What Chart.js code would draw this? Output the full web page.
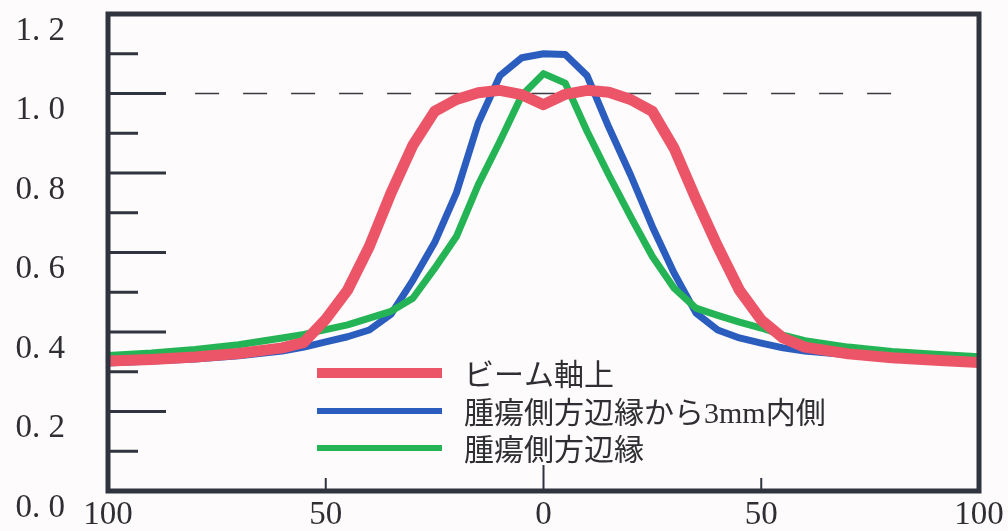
<!DOCTYPE html>
<html><head><meta charset="utf-8">
<script src="https://cdn.jsdelivr.net/npm/chart.js@4.4.1/dist/chart.umd.min.js"></script>
<style>html,body{margin:0;padding:0;background:#fdfbfb;overflow:hidden}#wrap{width:1008px;height:531px}</style>
</head><body><div id="wrap"><canvas id="c" width="1008" height="531"></canvas></div>
<script>
// ---- data ----
const positions   = [-100,-90,-80,-70,-60,-55,-50,-45,-40,-35,-30,-25,-20,-15,-10,-5,0,5,10,15,20,25,30,35,40,45,50,55,60,70,80,90,100];
const beamAxis    = [0.327,0.331,0.337,0.346,0.360,0.374,0.432,0.505,0.615,0.750,0.870,0.955,0.985,1.002,1.008,0.997,0.972,0.998,1.008,1.003,0.985,0.955,0.862,0.735,0.615,0.505,0.430,0.385,0.362,0.345,0.335,0.329,0.323];
const inner3mm    = [0.322,0.327,0.332,0.340,0.352,0.362,0.375,0.388,0.405,0.445,0.530,0.625,0.750,0.925,1.045,1.090,1.100,1.098,1.045,0.915,0.795,0.665,0.548,0.448,0.405,0.385,0.372,0.360,0.352,0.343,0.336,0.331,0.327];
const lateralEdge = [0.341,0.347,0.356,0.368,0.385,0.394,0.406,0.418,0.435,0.452,0.485,0.560,0.640,0.770,0.880,0.995,1.050,1.026,0.905,0.795,0.690,0.590,0.510,0.460,0.442,0.425,0.410,0.392,0.378,0.362,0.351,0.344,0.338];
const seriesLabels = ['ビーム軸上', '腫瘍側方辺縁から3mm内側', '腫瘍側方辺縁'];
const yMajorTicks = [0, 0.2, 0.4, 0.6, 0.8, 1.0, 1.2];
const yMinorTicks = [0.1, 0.3, 0.5, 0.7, 0.9, 1.1];
const xTickValues = [-100, -50, 0, 50, 100];
const refLevel = 1.0;
const refRange = [-80, 80];

const colors = { red: '#ec5568', blue: '#2b5dbf', green: '#25b455', frame: '#30343f', text: '#2e2e33' };
const numFont = '"Liberation Serif", "DejaVu Serif", serif';

const toPts = arr => positions.map((x, i) => ({ x, y: arr[i] }));

const framePlugin = {
  id: 'framePlugin',
  afterDatasetsDraw(chart) {
    const { ctx, chartArea: a, scales } = chart;
    const xs = scales.x, ys = scales.y;
    ctx.save();
    ctx.strokeStyle = colors.frame;
    ctx.lineWidth = 3;
    yMajorTicks.forEach(v => {
      if (v <= 0 || v >= 1.2) return;
      const p = ys.getPixelForValue(v);
      ctx.beginPath(); ctx.moveTo(a.left, p); ctx.lineTo(a.left + 58, p); ctx.stroke();
    });
    yMinorTicks.forEach(v => {
      const p = ys.getPixelForValue(v);
      ctx.beginPath(); ctx.moveTo(a.left, p); ctx.lineTo(a.left + 30, p); ctx.stroke();
    });
    ctx.lineWidth = 2;
    xTickValues.forEach(v => {
      if (Math.abs(v) === 100) return;
      const p = xs.getPixelForValue(v);
      const len = v === 0 ? 26 : 13;
      ctx.beginPath(); ctx.moveTo(p, a.bottom); ctx.lineTo(p, a.bottom - len); ctx.stroke();
    });
    ctx.lineWidth = 5;
    ctx.strokeRect(a.left, a.top, a.right - a.left, a.bottom - a.top);
    const ds = chart.data.datasets;
    const rows = [373, 411, 448];
    const widths = [10, 6, 6];
    ctx.font = '30px "Liberation Serif", "Noto Sans CJK JP", serif';
    ctx.textBaseline = 'middle';
    ctx.fillStyle = colors.text;
    for (let i = 0; i < 3; i++) {
      ctx.strokeStyle = ds[i].borderColor;
      ctx.lineWidth = widths[i];
      ctx.beginPath(); ctx.moveTo(317, rows[i]); ctx.lineTo(442, rows[i]); ctx.stroke();
      ctx.fillText(ds[i].label, 464, rows[i] + 4);
    }
    ctx.restore();
  }
};

new Chart(document.getElementById('c'), {
  type: 'line',
  data: {
    datasets: [
      { label: seriesLabels[0], data: toPts(beamAxis), borderColor: colors.red, borderWidth: 11, order: 0 },
      { label: seriesLabels[1], data: toPts(inner3mm), borderColor: colors.blue, borderWidth: 7, order: 2 },
      { label: seriesLabels[2], data: toPts(lateralEdge), borderColor: colors.green, borderWidth: 7, order: 1 },
      { label: 'ref', data: [{ x: refRange[0], y: refLevel }, { x: refRange[1], y: refLevel }],
        borderColor: '#3a3a40', borderWidth: 1.5, borderDash: [24, 24], order: 3 }
    ]
  },
  options: {
    responsive: false,
    animation: false,
    devicePixelRatio: 1,
    layout: { padding: { top: 14, right: 29, left: 0, bottom: 0 } },
    elements: { point: { radius: 0 }, line: { tension: 0, borderJoinStyle: 'round', borderCapStyle: 'butt' } },
    plugins: { legend: { display: false }, tooltip: { enabled: false } },
    scales: {
      x: {
        type: 'linear', min: -100, max: 100,
        afterFit: s => { s.height = 40; s.paddingLeft = 0; s.paddingRight = 0; s.paddingTop = 0; s.paddingBottom = 0; },
        afterBuildTicks: s => { s.ticks = xTickValues.map(v => ({ value: v })); },
        grid: { display: false, drawTicks: false }, border: { display: false },
        ticks: { padding: 5, color: colors.text, font: { family: numFont, size: 33 }, maxRotation: 0,
          callback: v => String(Math.abs(v)) }
      },
      y: {
        min: 0, max: 1.2,
        afterFit: s => { s.width = 108; s.paddingTop = 0; s.paddingBottom = 0; s.paddingLeft = 0; s.paddingRight = 0; },
        afterBuildTicks: s => { s.ticks = yMajorTicks.map(v => ({ value: v })); },
        grid: { display: false, drawTicks: false }, border: { display: false },
        ticks: { padding: 43, labelOffset: 17, color: colors.text, font: { family: numFont, size: 33 },
          callback: v => Number(v).toFixed(1).replace('.', '. ') }
      }
    }
  },
  plugins: [framePlugin]
});
</script></body></html>
